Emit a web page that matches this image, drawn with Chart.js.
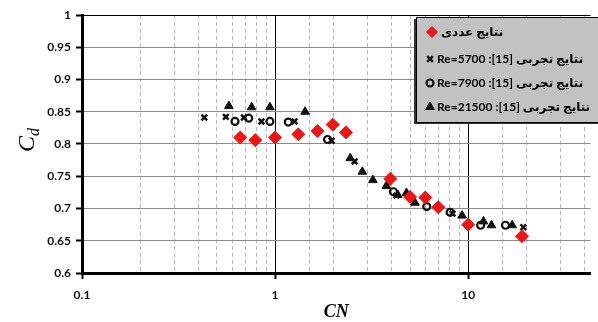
<!DOCTYPE html>
<html>
<head>
<meta charset="utf-8">
<script src="https://cdn.jsdelivr.net/npm/chart.js@4.4.1/dist/chart.umd.min.js"></script>
<style>
    html, body { margin: 0; padding: 0; background: #fff; overflow: hidden; }
</style>
</head>
<body>
<canvas id="chart-cd" width="598" height="322"></canvas>
<script>
// Cd vs CN — numerical results against experiments [15]
const numCN = [0.66, 0.79, 1.0, 1.32, 1.66, 1.99, 2.33, 3.95, 5.0, 6.0, 7.0, 10.0, 19.0];
const numCd = [0.810, 0.806, 0.810, 0.815, 0.820, 0.830, 0.818, 0.746, 0.718, 0.717, 0.702, 0.675, 0.657];

const re5700CN = [0.43, 0.556, 0.69, 0.85, 1.26, 1.96, 2.58, 4.25, 8.3, 19.3];
const re5700Cd = [0.841, 0.842, 0.841, 0.835, 0.835, 0.805, 0.773, 0.720, 0.692, 0.671];

const re7900CN = [0.62, 0.73, 0.94, 1.17, 1.87, 4.1, 6.1, 8.06, 11.6, 15.6];
const re7900Cd = [0.835, 0.840, 0.835, 0.834, 0.807, 0.726, 0.703, 0.694, 0.674, 0.674];

const re21500CN = [0.576, 0.756, 0.94, 1.43, 2.45, 2.83, 3.21, 3.77, 4.32, 4.79, 5.3, 9.3, 12.0, 13.2, 16.9];
const re21500Cd = [0.859, 0.857, 0.857, 0.850, 0.778, 0.757, 0.744, 0.735, 0.721, 0.724, 0.709, 0.689, 0.680, 0.674, 0.674];

const seriesLabels = [
    'نتایج عددی',
    'نتایج تجربی [15]: Re=5700',
    'نتایج تجربی [15]: Re=7900',
    'نتایج تجربی [15]: Re=21500'
];
const xMajorTicks = [0.1, 1, 10];

const tickFont = { family: 'Lato, "DejaVu Sans", sans-serif', size: 12, weight: 'bold' };
const isMajor = (v) => xMajorTicks.some(m => Math.abs(m - v) < 1e-9);
const toPoints = (xs, ys) => xs.map((x, i) => ({ x, y: ys[i] }));

// y title with subscript, drawn by hand since scale titles can't do that
const yTitle = {
    id: 'yTitle',
    afterDraw(chart) {
        const ctx = chart.ctx;
        const area = chart.chartArea;
        ctx.save();
        ctx.translate(34, (area.top + area.bottom) / 2 + 8);
        ctx.rotate(-Math.PI / 2);
        ctx.fillStyle = '#000';
        ctx.textBaseline = 'alphabetic';
        ctx.font = 'italic 24px "Liberation Serif", serif';
        ctx.fillText('C', 0, 0);
        const w = ctx.measureText('C').width;
        ctx.font = 'italic 16px "Liberation Serif", serif';
        ctx.fillText('d', w, 5);
        ctx.restore();
    }
};

// grey boxed legend with a shadow, inside the plot
const legendBox = {
    id: 'legendBox',
    afterDraw(chart) {
        const ctx = chart.ctx;
        const bx = 416, by = 17, bw = 190, bh = 105;
        const rows = [32, 59, 83, 107];
        ctx.save();
        ctx.fillStyle = '#333';
        ctx.fillRect(bx - 2, by + 2, bw, bh);
        ctx.fillStyle = '#c2c2c2';
        ctx.fillRect(bx, by, bw, bh);
        ctx.strokeStyle = '#000';
        ctx.lineWidth = 1;
        ctx.strokeRect(bx + 0.5, by + 0.5, bw, bh);

        chart.data.datasets.forEach((ds, i) => {
            const ry = rows[i];
            ctx.fillStyle = ds.backgroundColor;
            ctx.strokeStyle = ds.borderColor;
            ctx.lineWidth = ds.borderWidth;
            Chart.helpers.drawPoint(ctx, {
                pointStyle: ds.pointStyle,
                radius: i === 0 ? 5.5 : ds.pointRadius,
                borderWidth: ds.borderWidth,
                rotation: 0
            }, i === 0 ? 432 : 430, ry);

            ctx.fillStyle = '#000';
            ctx.font = 'bold 12px Lato, "DejaVu Sans", sans-serif';
            ctx.direction = 'rtl';
            ctx.textAlign = 'left';
            ctx.textBaseline = 'middle';
            ctx.fillText(ds.label, i === 0 ? 441 : 437, ry);
        });
        ctx.restore();
    }
};

new Chart(document.getElementById('chart-cd').getContext('2d'), {
    type: 'scatter',
    data: {
        datasets: [
            {
                label: seriesLabels[0],
                data: toPoints(numCN, numCd),
                pointStyle: 'rectRot',
                pointRadius: 6.5,
                backgroundColor: '#f01414',
                borderColor: '#f01414',
                borderWidth: 1
            },
            {
                label: seriesLabels[1],
                data: toPoints(re5700CN, re5700Cd),
                pointStyle: 'crossRot',
                pointRadius: 4,
                backgroundColor: '#111',
                borderColor: '#111',
                borderWidth: 2.5
            },
            {
                label: seriesLabels[2],
                data: toPoints(re7900CN, re7900Cd),
                pointStyle: 'circle',
                pointRadius: 3.5,
                backgroundColor: 'rgba(0,0,0,0)',
                borderColor: '#111',
                borderWidth: 2.2
            },
            {
                label: seriesLabels[3],
                data: toPoints(re21500CN, re21500Cd),
                pointStyle: 'triangle',
                pointRadius: 5,
                backgroundColor: '#111',
                borderColor: '#111',
                borderWidth: 1
            }
        ]
    },
    options: {
        responsive: false,
        animation: false,
        devicePixelRatio: 1,
        layout: { padding: { top: 15, left: 0, right: 0, bottom: 0 } },
        plugins: {
            legend: { display: false },
            tooltip: { enabled: false }
        },
        scales: {
            x: {
                type: 'logarithmic',
                min: 0.1,
                max: 43,
                afterBuildTicks: (scale) => {
                    scale.ticks = scale.ticks.filter(t => t.value <= 41);
                },
                afterFit: (scale) => { scale.height = 49; },
                border: {
                    display: true, color: '#000', width: 3,
                    dash: (c) => (c.tick && !isMajor(c.tick.value)) ? [4, 3] : []
                },
                grid: {
                    color: (c) => (c.tick && isMajor(c.tick.value)) ? '#000' : '#b8b8b8',
                    lineWidth: 1,
                    drawTicks: true,
                    tickLength: 6,
                    tickWidth: 2,
                    tickColor: (c) => (c.tick && isMajor(c.tick.value)) ? '#000' : 'rgba(0,0,0,0)'
                },
                ticks: {
                    color: '#111',
                    font: tickFont,
                    padding: 9,
                    maxRotation: 0,
                    autoSkip: false,
                    callback: (v) => isMajor(v) ? String(v) : ''
                },
                title: {
                    display: true,
                    text: 'CN',
                    color: '#000',
                    font: { family: '"Liberation Serif", serif', size: 18, style: 'italic', weight: 'bold', lineHeight: 1 },
                    padding: { top: 0, bottom: 1 }
                }
            },
            y: {
                min: 0.6,
                max: 1,
                afterFit: (scale) => { scale.width = 82; },
                border: { display: true, color: '#000', width: 3 },
                grid: {
                    color: (c) => (c.tick && c.tick.value === 1) ? '#000' : '#8c8c8c',
                    lineWidth: 1,
                    drawTicks: true,
                    tickLength: 6,
                    tickWidth: 2,
                    tickColor: '#000'
                },
                ticks: {
                    stepSize: 0.05,
                    color: '#111',
                    font: tickFont,
                    padding: 5,
                    callback: (v) => String(+v.toFixed(2))
                }
            }
        }
    },
    plugins: [yTitle, legendBox]
});
</script>
</body>
</html>
